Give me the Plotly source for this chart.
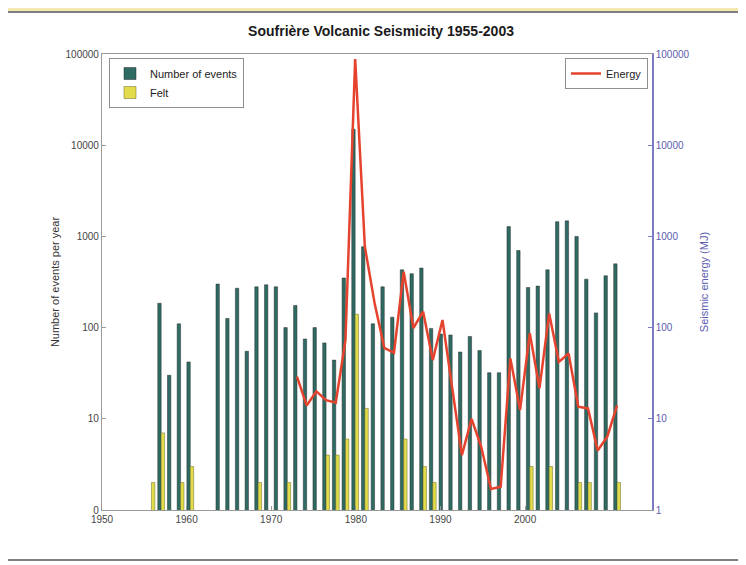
import plotly.graph_objects as go

years = list(range(1955, 2004))
events = [None, 185, 30, 110, 42, None, None, 300, 126, 270,
          55, 280, 295, 280, 100, 175, 75, 100, 68, 44,
          350, 15000, 770, 110, 280, 130, 430, 390, 450, 98,
          85, 83, 54, 80, 56, 32, 32, 1280, 700, 275,
          285, 430, 1450, 1480, 1000, 340, 145, 370, 500]
felt = [2, 7, None, 2, 3, None, None, None, None, None,
        None, 2, None, None, 2, None, None, None, 4, 4,
        6, 140, 13, None, None, None, 6, None, 3, 2,
        None, None, None, None, None, None, None, None, None, 3,
        None, 3, None, None, 2, 2, None, None, 2]
energy_years = list(range(1970, 2004))
energy = [29, 14, 20, 16, 15, 73, 88000, 770, 186, 60,
          53, 410, 99, 150, 44, 121, 22, 4, 10, 4.9,
          1.7, 1.8, 46, 12.5, 87, 21.6, 143, 42, 52, 13.6,
          13, 4.5, 6.4, 14]

x_ticks = [1950, 1960, 1970, 1980, 1990, 2000]
y_ticks = [1, 10, 100, 1000, 10000, 100000]
y_left_text = ["0", "10", "100", "1000", "10000", "100000"]
y_right_text = ["1", "10", "100", "1000", "10000", "100000"]

OFF = 8  # page body margin offset
W, H = 746 - OFF, 565 - OFF
L, T = 102 - OFF, 54 - OFF
pw, ph = 550, 456
R, B = W - L - pw, H - T - ph


def px(xp):
    return (xp - OFF - L) / pw


def py(yp):
    return (H - B - (yp - OFF)) / ph


fig = go.Figure()
fig.add_trace(go.Bar(x=years, y=events, name="Number of events",
                     marker=dict(color="#2e6b62", line=dict(color="#2a2f2e", width=0.5)),
                     xaxis="x2", yaxis="y", legend="legend"))
fig.add_trace(go.Bar(x=years, y=felt, name="Felt",
                     marker=dict(color="#e2dc4a", line=dict(color="#6b6a2a", width=0.5)),
                     xaxis="x2", yaxis="y", legend="legend"))
fig.add_trace(go.Scatter(x=energy_years, y=energy, name="Energy", mode="lines",
                         line=dict(color="#e5432e", width=2.5),
                         xaxis="x2", yaxis="y2", legend="legend2"))
# empty trace so that the labelled year axis is drawn
fig.add_trace(go.Scatter(x=[None], y=[None], xaxis="x", yaxis="y",
                         showlegend=False, hoverinfo="skip"))

font = "Liberation Sans, Arial, sans-serif"
fig.update_layout(
    width=W, height=H,
    margin=dict(l=L, r=R, t=T, b=B, pad=0),
    paper_bgcolor="white",
    plot_bgcolor="white",
    barmode="group", bargap=0.3, bargroupgap=0,
    font=dict(family=font, size=10, color="#333333"),
    title=dict(text="<b>Soufrière Volcanic Seismicity 1955-2003</b>",
               x=px(380), xanchor="center", y=1 - (31 - OFF) / H, yanchor="middle",
               font=dict(size=14, color="#1a1a1a", family=font)),
    xaxis=dict(range=[1950, 2015], tickvals=x_ticks, ticktext=[str(v) for v in x_ticks],
               showgrid=False, zeroline=False, showline=True, linecolor="#9a9a9a",
               linewidth=1.2, mirror=True, ticks="inside", ticklen=4, tickcolor="#9a9a9a",
               tickfont=dict(size=10, color="#444444")),
    xaxis2=dict(range=[1949.9, 2006.6], overlaying="x", visible=False),
    yaxis=dict(type="log", range=[0, 5], tickvals=y_ticks, ticktext=y_left_text,
               showgrid=False, zeroline=False, showline=True, linecolor="#9a9a9a",
               linewidth=1.2, ticks="inside", ticklen=4, tickcolor="#9a9a9a",
               tickfont=dict(size=10, color="#444444"),
               title=dict(text="Number of events per year", standoff=3,
                          font=dict(size=11, color="#333333"))),
    yaxis2=dict(type="log", range=[0, 5], tickvals=y_ticks, ticktext=y_right_text,
                overlaying="y", side="right", showgrid=False, zeroline=False,
                showline=True, linecolor="#7b7bc4", linewidth=1.5, ticks="inside",
                ticklen=4, tickcolor="#7b7bc4",
                tickfont=dict(size=10, color="#5b5bb0"),
                title=dict(text="Seismic energy (MJ)", standoff=12,
                           font=dict(size=11, color="#5b5bb0"))),
    legend=dict(x=px(109), y=py(58), xanchor="left", yanchor="top",
                bgcolor="white", bordercolor="#8f8f8f", borderwidth=1,
                font=dict(size=11, color="#222222"), tracegroupgap=0,
                traceorder="normal", itemwidth=30),
    legend2=dict(x=px(648), y=py(58), xanchor="right", yanchor="top",
                 bgcolor="white", bordercolor="#8f8f8f", borderwidth=1,
                 font=dict(size=11, color="#222222"), itemwidth=30),
    shapes=[
        dict(type="rect", xref="paper", yref="paper", x0=px(0), x1=px(760), y0=py(-10), y1=py(11),
             fillcolor="#f3e8ad", line=dict(width=0), layer="below"),
        dict(type="rect", xref="paper", yref="paper", x0=px(5), x1=px(741), y0=py(12), y1=py(560),
             fillcolor="white", line=dict(color="#555555", width=1.5), layer="below"),
        dict(type="line", xref="paper", yref="paper", x0=px(740), x1=px(740), y0=py(12), y1=py(560),
             line=dict(color="#555555", width=1.5), layer="above"),
    ],
)

fig.write_html("out.html")
